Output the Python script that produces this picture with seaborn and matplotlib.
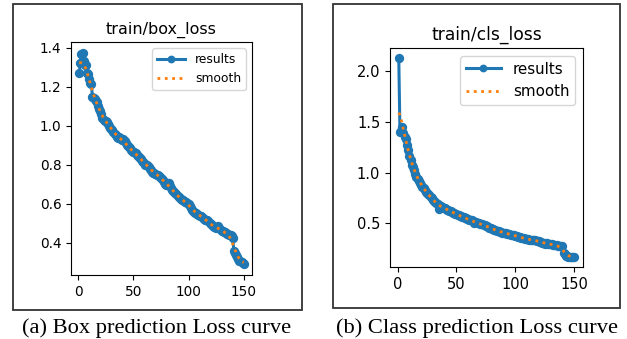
import numpy as np
import pandas as pd
import seaborn as sns
import matplotlib.pyplot as plt
from matplotlib.patches import Rectangle

epochs = list(range(1, 151))

box_loss = [
    1.27, 1.32, 1.37, 1.375, 1.33, 1.31, 1.31, 1.27, 1.265, 1.24,
    1.22, 1.215, 1.145, 1.14, 1.135, 1.125, 1.12, 1.10, 1.085, 1.075,
    1.06, 1.04, 1.03, 1.025, 1.025, 1.02, 1.01, 1.0, 0.99, 0.985,
    0.98, 0.97, 0.96, 0.955, 0.945, 0.94, 0.945, 0.935, 0.93, 0.925,
    0.93, 0.92, 0.91, 0.90, 0.895, 0.89, 0.885, 0.875, 0.87, 0.865,
    0.865, 0.86, 0.85, 0.845, 0.84, 0.835, 0.83, 0.82, 0.815, 0.81,
    0.80, 0.80, 0.795, 0.79, 0.78, 0.775, 0.765, 0.76, 0.76, 0.755,
    0.75, 0.75, 0.745, 0.74, 0.735, 0.73, 0.72, 0.71, 0.70, 0.695,
    0.705, 0.705, 0.69, 0.68, 0.67, 0.665, 0.66, 0.655, 0.65, 0.64,
    0.635, 0.63, 0.625, 0.62, 0.62, 0.615, 0.61, 0.61, 0.605, 0.60,
    0.59, 0.58, 0.57, 0.565, 0.56, 0.555, 0.555, 0.55, 0.545, 0.54,
    0.54, 0.535, 0.53, 0.525, 0.52, 0.515, 0.515, 0.51, 0.50, 0.495,
    0.49, 0.485, 0.48, 0.48, 0.475, 0.48, 0.485, 0.475, 0.465, 0.46,
    0.46, 0.455, 0.455, 0.45, 0.445, 0.445, 0.44, 0.44, 0.435, 0.425,
    0.36, 0.35, 0.34, 0.33, 0.32, 0.31, 0.305, 0.30, 0.295, 0.29,
]

cls_loss = [
    2.125, 1.40, 1.41, 1.45, 1.39, 1.35, 1.33, 1.27, 1.22, 1.16,
    1.12, 1.07, 1.05, 1.02, 0.99, 0.96, 0.94, 0.92, 0.90, 0.88,
    0.86, 0.85, 0.83, 0.81, 0.795, 0.785, 0.775, 0.76, 0.745, 0.735,
    0.72, 0.71, 0.70, 0.69, 0.645, 0.66, 0.675, 0.665, 0.655, 0.65,
    0.645, 0.635, 0.63, 0.625, 0.62, 0.61, 0.605, 0.60, 0.595, 0.59,
    0.585, 0.58, 0.575, 0.57, 0.565, 0.56, 0.555, 0.55, 0.545, 0.54,
    0.535, 0.53, 0.53, 0.525, 0.50, 0.515, 0.51, 0.505, 0.50, 0.495,
    0.49, 0.49, 0.485, 0.48, 0.475, 0.47, 0.465, 0.46, 0.455, 0.45,
    0.445, 0.44, 0.435, 0.43, 0.43, 0.425, 0.42, 0.415, 0.41, 0.41,
    0.405, 0.405, 0.40, 0.40, 0.395, 0.39, 0.39, 0.385, 0.385, 0.38,
    0.375, 0.37, 0.37, 0.365, 0.36, 0.355, 0.355, 0.35, 0.35, 0.345,
    0.345, 0.34, 0.34, 0.34, 0.335, 0.335, 0.335, 0.33, 0.33, 0.325,
    0.32, 0.315, 0.31, 0.31, 0.30, 0.305, 0.305, 0.30, 0.30, 0.295,
    0.295, 0.29, 0.29, 0.285, 0.285, 0.28, 0.28, 0.28, 0.275, 0.275,
    0.205, 0.195, 0.185, 0.18, 0.175, 0.175, 0.17, 0.17, 0.17, 0.17,
]

titles = ['train/box_loss', 'train/cls_loss']
captions = ['(a) Box prediction Loss curve', '(b) Class prediction Loss curve']


def gauss_smooth(y, sigma=3):
    # same idea as scipy gaussian_filter1d (mode reflect)
    r = int(4 * sigma + 0.5)
    k = np.exp(-0.5 * (np.arange(-r, r + 1) / sigma) ** 2)
    k = k / k.sum()
    yp = np.pad(np.asarray(y, float), r, mode='symmetric')
    return np.convolve(yp, k, mode='valid')


W, H = 627, 339
fig = plt.figure(figsize=(W / 100, H / 100), dpi=100)

# axes boxes in pixels (left, top, right, bottom)
ax_px = [(71, 42, 252, 275), (390, 48, 583, 267)]
frame_px = [(13, 4, 302, 310), (333, 4, 620, 308)]
tick_fs = [9.8, 10.5]
title_fs = [11.5, 12.3]
leg_fs = [8.8, 10.9]
cap_x = [157, 477]

for i, vals in enumerate([box_loss, cls_loss]):
    l, t, r, b = ax_px[i]
    ax = fig.add_axes([l / W, 1 - b / H, (r - l) / W, (b - t) / H])
    df = pd.DataFrame({'epoch': epochs, 'loss': vals})
    df['smooth'] = gauss_smooth(df.loss)

    sns.lineplot(data=df, x='epoch', y='loss', ax=ax, label='results', color='#1f77b4',
                 marker='.', markersize=11, markeredgecolor='#1f77b4', markeredgewidth=1.2, linewidth=2.2)
    sns.lineplot(data=df, x='epoch', y='smooth', ax=ax, label='smooth', color='#ff7f0e',
                 linestyle=':', linewidth=2)

    ax.set_title(titles[i], fontsize=title_fs[i])
    ax.set_xlabel('')
    ax.set_ylabel('')
    ax.set_xticks([0, 50, 100, 150])
    ax.tick_params(labelsize=tick_fs[i])
    ax.legend(loc='upper right', fontsize=leg_fs[i], handlelength=2.3, markerscale=0.8)

    fl, ft, fr, fb = frame_px[i]
    fig.patches.append(Rectangle((fl / W, 1 - fb / H), (fr - fl) / W, (fb - ft) / H,
                                 transform=fig.transFigure, fill=False, edgecolor='#333333', linewidth=1.3))
    fig.text(cap_x[i] / W, 6 / H, captions[i], ha='center', va='baseline',
             fontsize=16.2, family='Liberation Serif')

fig.savefig('out.png', dpi=100)
